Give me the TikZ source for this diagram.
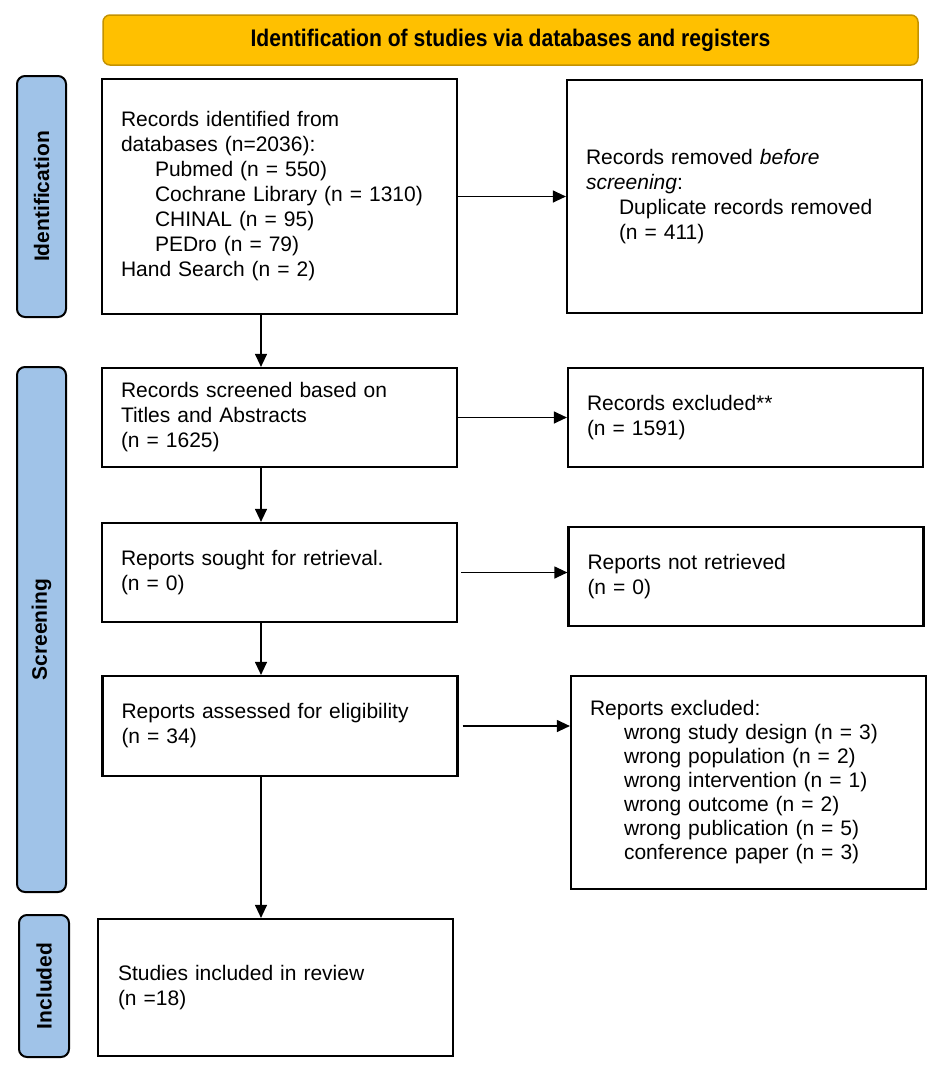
\documentclass[tikz,border=0pt]{standalone}
\usepackage{fontspec}
\usepackage{graphicx}
\setmainfont{Liberation Sans}
\usetikzlibrary{arrows.meta,calc}
\definecolor{phaseblue}{RGB}{160,195,232}
\definecolor{hdrfill}{RGB}{255,192,0}
\definecolor{hdrborder}{RGB}{196,146,0}
\begin{document}
\begin{tikzpicture}[x=1pt,y=-1pt,
  box/.style={draw=black,line width=2.2pt,fill=white,rectangle,minimum width=355pt,text width=317pt,inner xsep=19pt,inner ysep=0pt,align=left,font=\fontsize{21}{25}\selectfont},
  phase/.style={draw=black,line width=2pt,rounded corners=8pt,fill=phaseblue,inner sep=0pt,rotate=90,font=\fontsize{21}{25}\selectfont\bfseries},
  arr/.style={line width=1.2pt,-{Triangle[length=13pt,width=12pt]}}
]
\useasboundingbox (0,0) rectangle (935,1066);

% header
\node[draw=hdrborder,fill=hdrfill,line width=1.5pt,rounded corners=7pt,minimum width=815pt,minimum height=50pt,inner sep=0pt] (hdr) at (510.5,40)
  {\scalebox{0.88}[1]{\fontsize{24}{28}\selectfont\bfseries Identification of studies via databases and registers}};

% phase labels
\node[phase,minimum width=241pt,minimum height=49pt] (L1) at (41.5,196.5) {Identification};
\node[phase,minimum width=525pt,minimum height=49pt] (L2) at (41.5,629.5) {Screening};
\node[phase,minimum width=142pt,minimum height=50pt] (L3) at (44,986) {Included};

% boxes
\node[box,minimum height=235pt] (b1) at (279.5,196.5) {Records identified from\\
databases (n=2036):\\
\hspace*{34pt}Pubmed (n = 550)\\
\hspace*{34pt}Cochrane Library (n = 1310)\\
\hspace*{34pt}CHINAL (n = 95)\\
\hspace*{34pt}PEDro (n = 79)\\
Hand Search (n = 2)};

\node[box,minimum height=233pt] (b2) at (744.5,196.5) {Records removed \textit{before}\\
\textit{screening}:\\
\hspace*{33pt}Duplicate records removed\\
\hspace*{33pt}(n = 411)};

\node[box,minimum height=99pt] (b3) at (279.5,417.5) {Records screened based on\\
Titles and Abstracts\\
(n = 1625)};

\node[box,minimum height=99pt] (b4) at (745.5,417.5) {Records excluded**\\
(n = 1591)};

\node[box,minimum height=99pt] (b5) at (279.5,572.5) {Reports sought for retrieval.\\
(n = 0)};

\node[box,minimum height=99pt] (b6) at (746,576.5) {Reports not retrieved\\
(n = 0)};

\node[box,minimum height=100pt] (b7) at (280,726) {Reports assessed for eligibility\\
(n = 34)};

\node[box,minimum height=213pt,font=\fontsize{21}{24}\selectfont] (b8) at (748.5,782.5) {Reports excluded:\\
\hspace*{34pt}wrong study design (n = 3)\\
\hspace*{34pt}wrong population (n = 2)\\
\hspace*{34pt}wrong intervention (n = 1)\\
\hspace*{34pt}wrong outcome (n = 2)\\
\hspace*{34pt}wrong publication (n = 5)\\
\hspace*{34pt}conference paper (n = 3)};

\node[box,minimum height=137pt,inner xsep=20pt,text width=315pt] (b9) at (275.5,987.5) {Studies included in review\\
(n =18)};

% connectors
\coordinate (vx) at (261,0);
\draw[arr] (b1.south -| vx) -- (b3.north -| vx);
\draw[arr] (b3.south -| vx) -- (b5.north -| vx);
\draw[arr] (b5.south -| vx) -- (b7.north -| vx);
\draw[arr] (b7.south -| vx) -- (b9.north -| vx);

\draw[arr] (b1.east) -- (b1.east -| b2.west);
\draw[arr] (b3.east) -- (b3.east -| b4.west);
\draw[arr,shorten <=3pt] (b5.east) -- (b5.east -| b6.west);
\draw[arr,shorten <=4pt] (b7.east) -- (b7.east -| b8.west);
\end{tikzpicture}
\end{document}
